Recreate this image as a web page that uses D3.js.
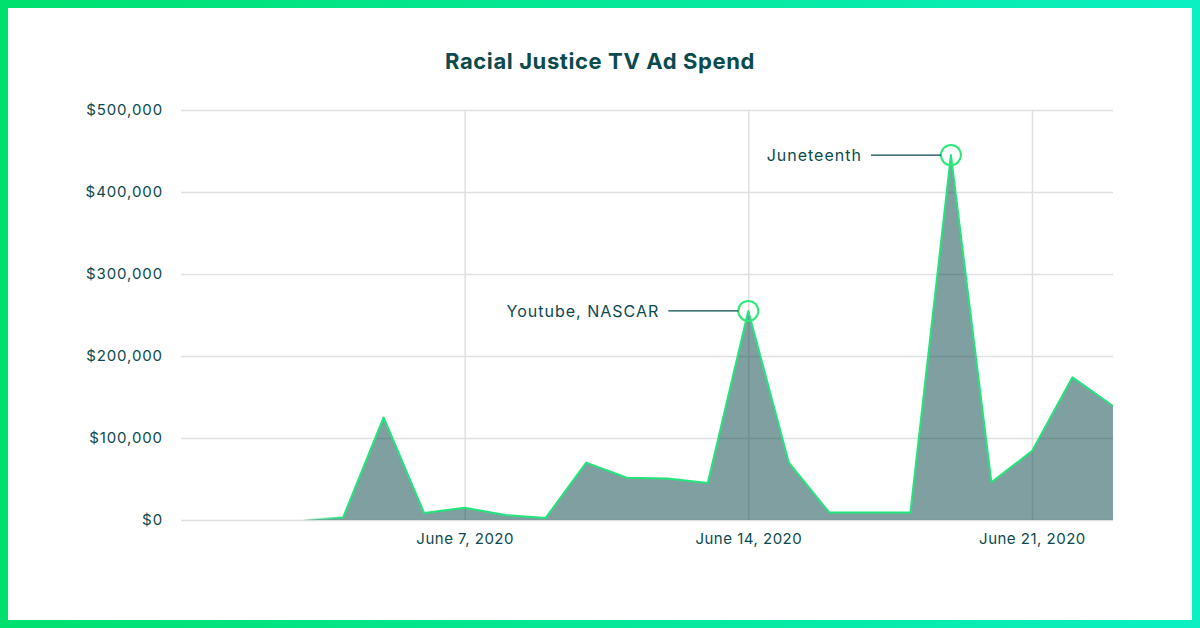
<!DOCTYPE html>
<html>
<head>
<meta charset="utf-8">
<script src="https://cdn.jsdelivr.net/npm/d3@7"></script>
<style>
  html, body { margin: 0; padding: 0; background: #fff; }
  svg { display: block; font-family: Inter, "Open Sans", sans-serif; }
</style>
</head>
<body>
<script>
// daily TV ad spend, June 2020
const dates = [
  "2020-06-03", "2020-06-04", "2020-06-05", "2020-06-06", "2020-06-07",
  "2020-06-08", "2020-06-09", "2020-06-10", "2020-06-11", "2020-06-12",
  "2020-06-13", "2020-06-14", "2020-06-15", "2020-06-16", "2020-06-17",
  "2020-06-18", "2020-06-19", "2020-06-20", "2020-06-21", "2020-06-22",
  "2020-06-23"
];
const spend = [
  0, 3000, 125000, 8500, 15000,
  6000, 2500, 70000, 51500, 50500,
  45000, 255000, 70000, 9000, 9000,
  9000, 445000, 46000, 84000, 174000,
  139000
];
const yTicks = [0, 100000, 200000, 300000, 400000, 500000];
const xTicks = ["2020-06-07", "2020-06-14", "2020-06-21"];
const notes = [
  { date: "2020-06-14", label: "Youtube, NASCAR" },
  { date: "2020-06-19", label: "Juneteenth" }
];

const parse = d3.utcParse("%Y-%m-%d");
const data = dates.map((d, i) => ({ date: parse(d), value: spend[i] }));

const width = 1200;
const height = 628;
const margin = { top: 110, right: 87, bottom: 108, left: 181 };
const ink = "#0b4a4f";
const green = "#22e57c";
const font = "Inter, 'Open Sans', sans-serif";

const x = d3.scaleUtc()
  .domain([parse("2020-05-31"), parse("2020-06-23")])
  .range([margin.left, width - margin.right]);

const y = d3.scaleLinear()
  .domain([0, 500000])
  .range([height - margin.bottom, margin.top]);

const svg = d3.create("svg")
  .attr("width", width)
  .attr("height", height);

const defs = svg.append("defs");
const frameGrad = defs.append("linearGradient")
  .attr("id", "frame")
  .attr("x1", "0%").attr("x2", "100%");
frameGrad.append("stop").attr("offset", "0%").attr("stop-color", "#00e06e");
frameGrad.append("stop").attr("offset", "100%").attr("stop-color", "#0af0c2");

// line fades in at the start
const lineGrad = defs.append("linearGradient")
  .attr("id", "fade")
  .attr("gradientUnits", "userSpaceOnUse")
  .attr("x1", x(data[0].date)).attr("x2", x(data[1].date))
  .attr("y1", 0).attr("y2", 0);
lineGrad.append("stop").attr("offset", "0%").attr("stop-color", green).attr("stop-opacity", 0);
lineGrad.append("stop").attr("offset", "100%").attr("stop-color", green).attr("stop-opacity", 1);

svg.append("rect")
  .attr("x", 0).attr("y", 0)
  .attr("width", width).attr("height", height)
  .attr("fill", "#fff")
  .attr("stroke", "url(#frame)")
  .attr("stroke-width", 16);

svg.append("text")
  .attr("x", 600)
  .attr("y", 69)
  .attr("text-anchor", "middle")
  .attr("fill", ink)
  .attr("font-size", 22)
  .attr("font-weight", 700)
  .attr("letter-spacing", 0.6)
  .text("Racial Justice TV Ad Spend");

// y axis + horizontal grid
const gy = svg.append("g")
  .attr("transform", `translate(${margin.left},0)`)
  .call(d3.axisLeft(y)
    .tickValues(yTicks)
    .tickSize(-(width - margin.left - margin.right))
    .tickPadding(18)
    .tickFormat(d => "$" + d3.format(",")(d)));
gy.attr("font-family", font);
gy.select(".domain").remove();
gy.selectAll(".tick line").attr("stroke", "#e0e0e0").attr("stroke-width", 1.5);
gy.selectAll(".tick text").attr("fill", ink).attr("font-size", 15).attr("letter-spacing", 0.9);

// x axis + vertical grid
const gx = svg.append("g")
  .attr("transform", `translate(0,${height - margin.bottom})`)
  .call(d3.axisBottom(x)
    .tickValues(xTicks.map(parse))
    .tickSize(-(height - margin.top - margin.bottom))
    .tickPadding(13)
    .tickFormat(d3.utcFormat("June %-d, %Y")));
gx.attr("font-family", font);
gx.select(".domain").remove();
gx.selectAll(".tick line").attr("stroke", "#e0e0e0").attr("stroke-width", 1.5);
gx.selectAll(".tick text").attr("fill", ink).attr("font-size", 15).attr("letter-spacing", 0.5);

const area = d3.area()
  .x(d => x(d.date))
  .y0(y(0))
  .y1(d => y(d.value));

const line = d3.line()
  .x(d => x(d.date))
  .y(d => y(d.value));

svg.append("path")
  .datum(data)
  .attr("fill", "#003f42")
  .attr("fill-opacity", 0.5)
  .attr("d", area);

svg.append("path")
  .datum(data)
  .attr("fill", "none")
  .attr("stroke", "url(#fade)")
  .attr("stroke-width", 2)
  .attr("stroke-linejoin", "round")
  .attr("d", line);

// annotations
const noteG = svg.append("g");
notes.forEach(n => {
  const d = data.find(p => +p.date === +parse(n.date));
  const cx = x(d.date);
  const cy = y(d.value);
  const r = 10;
  noteG.append("circle")
    .attr("cx", cx).attr("cy", cy).attr("r", r)
    .attr("fill", "none")
    .attr("stroke", "#2ee87a")
    .attr("stroke-width", 2);
  noteG.append("line")
    .attr("x1", cx - r - 70).attr("x2", cx - r)
    .attr("y1", cy).attr("y2", cy)
    .attr("stroke", ink)
    .attr("stroke-width", 1.2);
  noteG.append("text")
    .attr("x", cx - r - 79)
    .attr("y", cy)
    .attr("dy", "0.35em")
    .attr("text-anchor", "end")
    .attr("fill", ink)
    .attr("font-size", 16)
    .attr("letter-spacing", 1)
    .text(n.label);
});

document.body.appendChild(svg.node());
</script>
</body>
</html>
